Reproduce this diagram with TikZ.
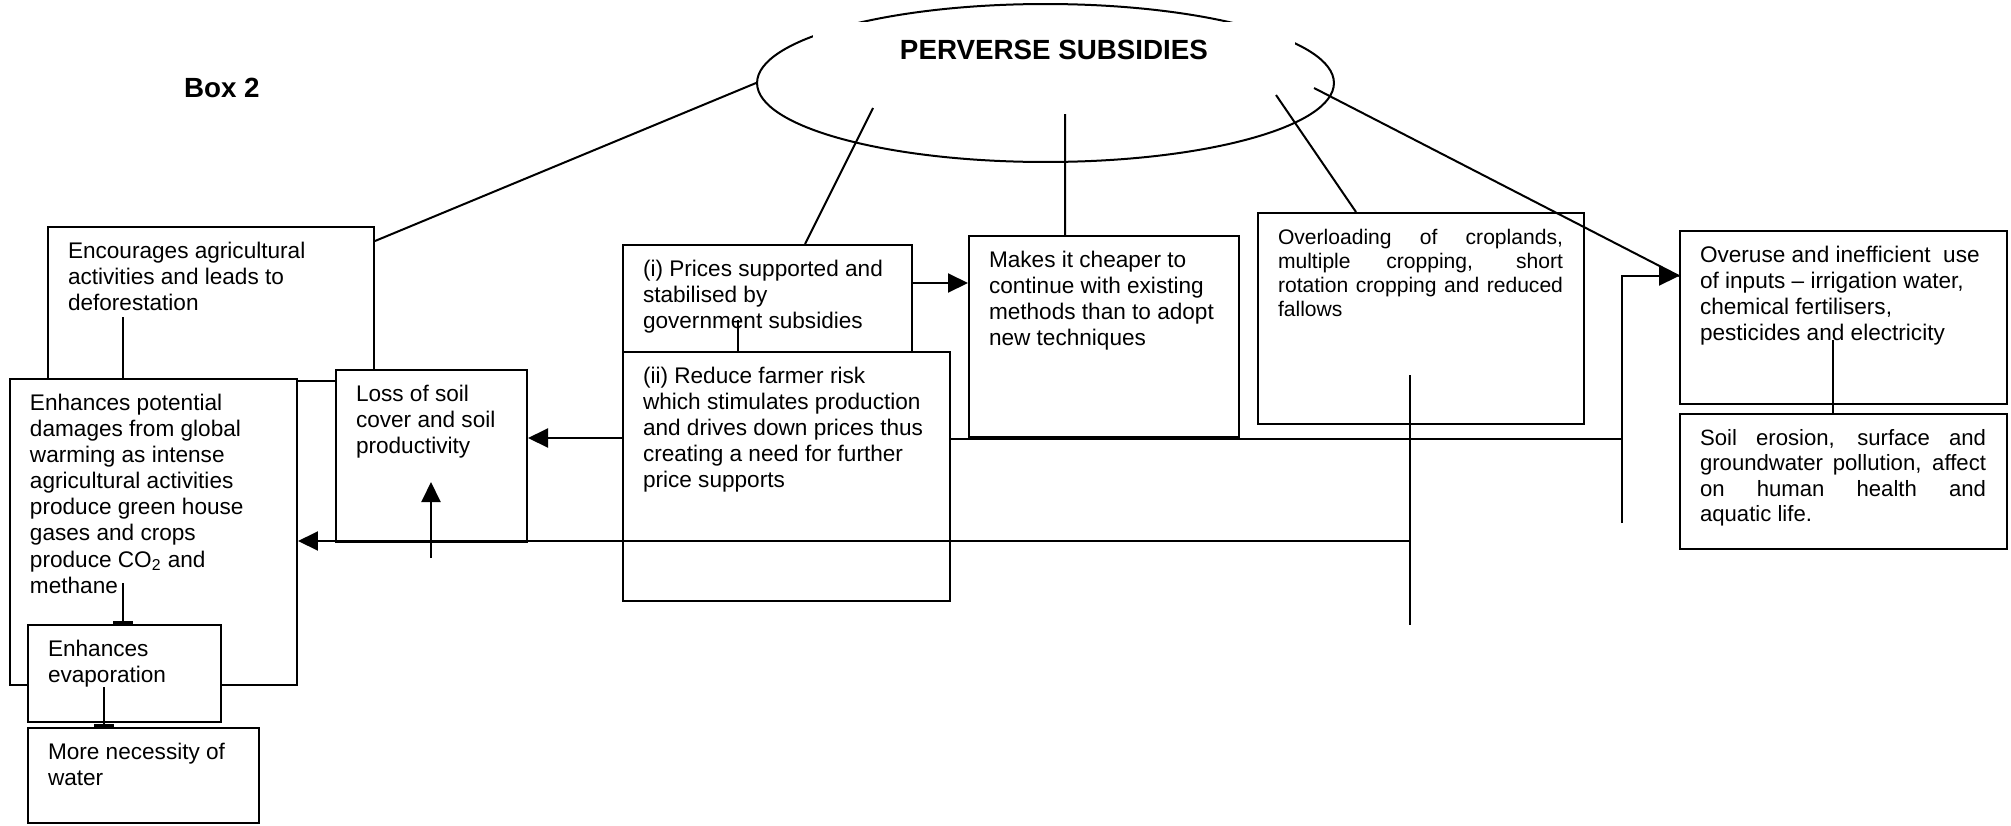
\documentclass[tikz,border=0pt]{standalone}
\usepackage{fontspec}
\setmainfont{Liberation Sans}
\usetikzlibrary{positioning,shapes.geometric,arrows.meta}
\tikzset{every picture/.style={line width=0.04cm}}

\newlength\pxu
\setlength\pxu{0.02cm}
\newcommand{\bodyfont}{\fontsize{12.86pt}{14.9pt}\selectfont}
\newcommand{\ovlfont}{\fontsize{12pt}{13.8pt}\selectfont}
\newcommand{\soilfont}{\fontsize{12.6pt}{14.6pt}\selectfont}
\newcommand{\hdfont}{\fontsize{15.8pt}{18pt}\selectfont\bfseries}
% box text: width, height (px), text; ragged or justified
\newcommand{\txtl}[3]{\parbox[t][#2\pxu][t]{#1\pxu}{\raggedright\leftskip=20\pxu\rule{0pt}{31\pxu}#3}}
\newcommand{\txtj}[3]{\parbox[t][#2\pxu][t]{#1\pxu}{\leftskip=20\pxu\rightskip=21\pxu\tolerance=10000\hyphenpenalty=10000\rule{0pt}{31\pxu}#3}}

\begin{document}
\begin{tikzpicture}[x=0.02cm, y=-0.02cm, >={Triangle[length=0.4cm, width=0.38cm]},
    textbox/.style={draw, fill=white, inner sep=0pt, anchor=north west, font=\bodyfont},
    hid/.style={-{Rectangle[length=0.07cm, width=0.4cm]}}]
    \useasboundingbox (0,0) rectangle (2011,825);
    % heading
    \node[ellipse, draw, minimum width=11.54cm, minimum height=3.16cm, inner sep=0pt] (ps) at (1045.5,83) {};
    \node[fill=white, inner sep=0pt, minimum width=9.64cm, minimum height=1.12cm, font=\hdfont] (tit) at (1054,50) {PERVERSE SUBSIDIES};
    \node[anchor=base west, inner sep=0pt, font=\hdfont] (lbl) at (183,97) {Box 2};
    % boxes
    \node[textbox] (enc) at (47,226) {\txtl{326}{154}{Encourages agricultural\\ activities and leads to\\ deforestation}};
    \node[textbox] (glob) at (9,378) {\txtl{287}{306}{Enhances potential\\ damages from global\\ warming as intense\\ agricultural activities\\ produce green house\\ gases and crops\\ produce CO\textsubscript{2} and\\ methane}};
    \node[textbox] (loss) at (335,369) {\txtl{191}{172}{Loss of soil\\ cover and soil\\ productivity}};
    \node[textbox] (pr1) at (622,244) {\txtl{289}{111}{(i) Prices supported and\\ stabilised by\\ government subsidies}};
    \node[textbox] (pr2) at (622,351) {\txtl{327}{249}{(ii) Reduce farmer risk\\ which stimulates production\\ and drives down prices thus\\ creating a need for further\\ price supports}};
    \node[textbox] (cheap) at (968,235) {\txtl{270}{201}{Makes it cheaper to\\ continue with existing\\ methods than to adopt\\ new techniques}};
    \node[textbox, font=\ovlfont] (over) at (1257,212) {\txtj{326}{211}{Overloading of croplands,\linebreak multiple cropping, short\linebreak rotation cropping and reduced\linebreak fallows}};
    \node[textbox] (inp) at (1679,230) {\txtl{327}{173}{Overuse and inefficient\ \ use\\ of inputs \textendash{} irrigation water,\\ chemical fertilisers,\\ pesticides and electricity}};
    \node[textbox, font=\soilfont] (soil) at (1679,413) {\txtj{327}{135}{Soil erosion, surface and\linebreak groundwater pollution, affect\linebreak on human health and\linebreak aquatic life.}};
    \node[textbox] (evap) at (27,624) {\txtl{193}{97}{Enhances\\ evaporation}};
    \node[textbox] (water) at (27,727) {\txtl{231}{95}{More necessity of\\ water}};
    % free ends
    \coordinate (c1) at (1622,523);
    \coordinate (c2) at (1410,375);
    \coordinate (c3) at (1410,625);
    \coordinate (c4) at (1410,541);
    \coordinate (c5) at (431,558);
    % from the ellipse
    \draw (ps.west) -- ([shift={(0,15)}]enc.north east);
    \draw ([shift={(-172.5,25)}]ps.center) -- ([shift={(183,0)}]pr1.north west);
    \draw ([shift={(19.5,31)}]ps.center) -- ([shift={(97,0)}]cheap.north west);
    \draw ([shift={(230.5,12)}]ps.center) -- ([shift={(99,0)}]over.north west);
    \draw ([shift={(268.5,5)}]ps.center) -- ([shift={(0,46)}]inp.north west);
    % links between boxes
    \draw[->] ([shift={(0,39)}]pr1.north east) -- ([shift={(0,48)}]cheap.north west);
    \draw ([shift={(116,76)}]pr1.north west) -- ([shift={(116,0)}]pr2.north west);
    \draw[->] ([shift={(0,87)}]pr2.north west) -- ([shift={(0,69)}]loss.north east);
    \draw ([shift={(0,88)}]pr2.north east) -- ([shift={(0,88)}]pr2.north east -| c1);
    \draw[->] (c1) |- ([shift={(0,46)}]inp.north west);
    \draw (c2) -- (c3);
    \draw[->] (c4) -- (c4 -| glob.east);
    \draw[->] (c5) -- ([shift={(96,113)}]loss.north west);
    \draw ([shift={(76,91)}]enc.north west) -- ([shift={(114,0)}]glob.north west);
    \draw[hid] ([shift={(114,205)}]glob.north west) -- ([shift={(96,0)}]evap.north west);
    \draw[hid] ([shift={(77,63)}]evap.north west) -- ([shift={(77,0)}]water.north west);
    \draw ([shift={(154,110)}]inp.north west) -- ([shift={(154,0)}]soil.north west);
\end{tikzpicture}
\end{document}
